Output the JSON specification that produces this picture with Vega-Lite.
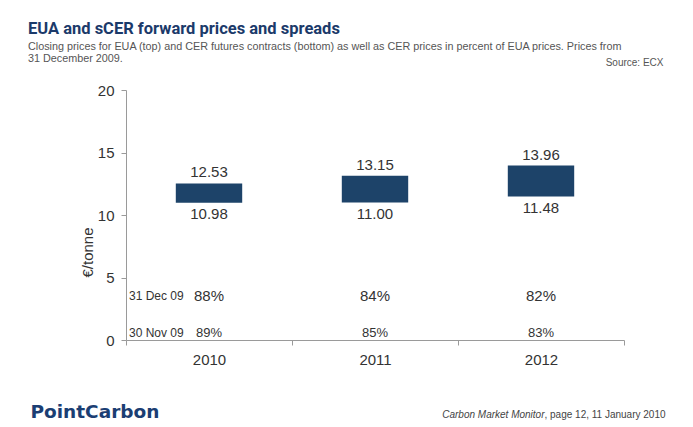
{
  "$schema": "https://vega.github.io/schema/vega-lite/v6.json",
  "width": 498,
  "height": 250,
  "autosize": {"type": "none"},
  "padding": {"left": 126, "top": 90, "right": 69, "bottom": 87},
  "background": "white",
  "config": {
    "view": {"stroke": null},
    "font": "Liberation Sans",
    "axis": {"grid": false, "labelFont": "Liberation Sans", "titleFont": "Liberation Sans", "labelColor": "#333333", "titleColor": "#333333", "domainColor": "#9a9a9a", "tickColor": "#9a9a9a"},
    "text": {"font": "Liberation Sans", "color": "#333333"}
  },
  "title": {
    "text": "EUA and sCER forward prices and spreads",
    "subtitle": ["Closing prices for EUA (top) and CER futures contracts (bottom) as well as CER prices in percent of EUA prices. Prices from", "31 December 2009."],
    "anchor": "start",
    "frame": "group",
    "dx": -98,
    "offset": -7,
    "font": "Roboto",
    "fontSize": 16.5,
    "fontWeight": "bold",
    "color": "#1b3a6a",
    "subtitleFont": "Liberation Sans",
    "subtitleFontSize": 10.8,
    "subtitleColor": "#555555",
    "subtitleLineHeight": 12,
    "subtitlePadding": 4
  },
  "data": {
    "values": [
      {"year": "2010", "eua": 12.53, "cer": 10.98, "dec": 0.88, "nov": 0.89},
      {"year": "2011", "eua": 13.15, "cer": 11.00, "dec": 0.84, "nov": 0.85},
      {"year": "2012", "eua": 13.96, "cer": 11.48, "dec": 0.82, "nov": 0.83}
    ]
  },
  "resolve": {"axis": {"x": "independent", "y": "independent"}},
  "layer": [
    {
      "mark": {"type": "bar", "color": "#1d4369", "width": {"band": 0.4}},
      "encoding": {
        "x": {"field": "year", "type": "nominal", "sort": null,
          "scale": {"paddingInner": 0, "paddingOuter": 0},
          "axis": {"orient": "bottom", "labelAngle": 0, "labelFontSize": 15, "labelPadding": 7, "tickSize": 5, "tickBand": "extent",
            "title": "Carbon Market Monitor", "titleFontStyle": "italic", "titleFontWeight": "normal", "titleFontSize": 10, "titleColor": "#444444",
            "titleX": 418, "titleY": 74, "titleAlign": "right", "titleBaseline": "middle", "titleAnchor": null}},
        "y": {"field": "cer", "type": "quantitative", "scale": {"domain": [0, 20], "nice": false, "zero": true},
          "axis": {"orient": "left", "values": [0, 5, 10, 15, 20], "labelFontSize": 15, "labelPadding": 7, "tickSize": 5,
            "title": "€/tonne", "titleFontSize": 15, "titleFontWeight": "normal", "titleX": -39, "titleY": 162, "titleAlign": "center", "titleBaseline": "middle", "titleAngle": -90}},
        "y2": {"field": "eua"}
      }
    },
    {
      "mark": {"type": "text", "fontSize": 15, "baseline": "alphabetic", "dy": -6},
      "encoding": {
        "x": {"field": "year", "type": "nominal", "sort": null, "axis": null},
        "y": {"field": "eua", "type": "quantitative", "axis": null},
        "text": {"field": "eua", "type": "quantitative", "format": ".2f"}
      }
    },
    {
      "mark": {"type": "text", "fontSize": 15, "baseline": "middle", "dy": 11},
      "encoding": {
        "x": {"field": "year", "type": "nominal", "sort": null, "axis": null},
        "y": {"field": "cer", "type": "quantitative", "axis": null},
        "text": {"field": "cer", "type": "quantitative", "format": ".2f"}
      }
    },
    {
      "mark": {"type": "text", "fontSize": 15, "baseline": "middle"},
      "encoding": {
        "x": {"field": "year", "type": "nominal", "sort": null, "axis": null},
        "y": {"datum": 3.55, "type": "quantitative", "axis": null},
        "text": {"field": "dec", "type": "quantitative", "format": ".0%"}
      }
    },
    {
      "mark": {"type": "text", "fontSize": 13, "baseline": "middle"},
      "encoding": {
        "x": {"field": "year", "type": "nominal", "sort": null, "axis": null},
        "y": {"datum": 0.6, "type": "quantitative", "axis": null},
        "text": {"field": "nov", "type": "quantitative", "format": ".0%"}
      }
    },
    {
      "transform": [{"filter": "datum.year === '2010'"}],
      "mark": {"type": "text", "fontSize": 12, "baseline": "middle", "align": "left", "dx": 3},
      "encoding": {
        "x": {"field": "year", "type": "nominal", "sort": null, "bandPosition": 0, "axis": null},
        "y": {"datum": 3.55, "type": "quantitative", "axis": null},
        "text": {"value": "31 Dec 09"}
      }
    },
    {
      "transform": [{"filter": "datum.year === '2010'"}],
      "mark": {"type": "text", "fontSize": 12, "baseline": "middle", "align": "left", "dx": 3},
      "encoding": {
        "x": {"field": "year", "type": "nominal", "sort": null, "bandPosition": 0, "axis": null},
        "y": {"datum": 0.6, "type": "quantitative", "axis": null},
        "text": {"value": "30 Nov 09"}
      }
    },
    {
      "mark": {"type": "text", "opacity": 0},
      "encoding": {
        "x": {"field": "year", "type": "nominal", "sort": null,
          "axis": {"orient": "top", "labels": false, "ticks": false, "domain": false,
            "title": "Source: ECX", "titleFontSize": 10, "titleFontWeight": "normal", "titleColor": "#555555",
            "titleX": 537, "titleY": -28, "titleAlign": "right", "titleBaseline": "middle", "titleAnchor": null}},
        "y": {"field": "cer", "type": "quantitative", "axis": null},
        "text": {"value": ""}
      }
    },
    {
      "mark": {"type": "text", "opacity": 0},
      "encoding": {
        "x": {"field": "year", "type": "nominal", "sort": null,
          "axis": {"orient": "bottom", "labels": false, "ticks": false, "domain": false,
            "title": "PointCarbon", "titleFontSize": 18.5, "titleFontWeight": "bold", "titleColor": "#1b3e73",
            "titleFont": "DejaVu Sans",
            "titleX": -96, "titleY": 71, "titleAlign": "left", "titleBaseline": "middle", "titleAnchor": null}},
        "y": {"field": "cer", "type": "quantitative", "axis": null},
        "text": {"value": ""}
      }
    },
    {
      "mark": {"type": "text", "opacity": 0},
      "encoding": {
        "x": {"field": "year", "type": "nominal", "sort": null,
          "axis": {"orient": "bottom", "labels": false, "ticks": false, "domain": false,
            "title": ", page 12, 11 January 2010", "titleFontSize": 10, "titleFontWeight": "normal", "titleColor": "#444444",
            "titleX": 418, "titleY": 74, "titleAlign": "left", "titleBaseline": "middle", "titleAnchor": null}},
        "y": {"field": "cer", "type": "quantitative", "axis": null},
        "text": {"value": ""}
      }
    }
  ]
}
